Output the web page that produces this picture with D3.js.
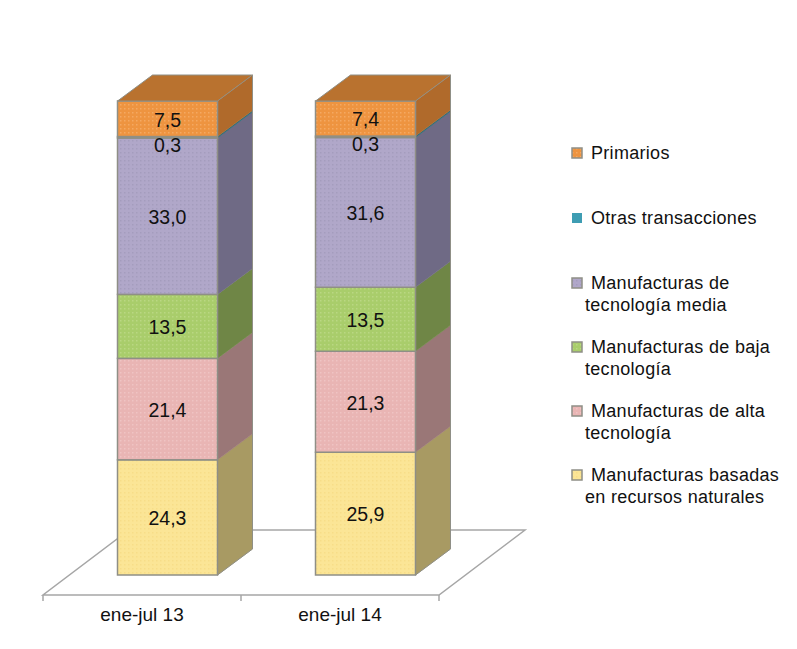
<!DOCTYPE html>
<html lang="es">
<head>
<meta charset="UTF-8">
<title>Exportaciones por contenido tecnologico</title>
<script src="https://cdn.jsdelivr.net/npm/d3@7"></script>
<style type="text/css">
	body { margin: 0; background: #fff; font-family: "Liberation Sans", Arial, sans-serif; }
	svg { display: block; }
	text { fill: #111; }
	.value { font-size: 19.5px; text-anchor: middle; }
	.legend text { font-size: 18px; letter-spacing: .3px; }
	.axis text { font-size: 19px; fill: #111; }
	.axis path, .axis line { stroke: #a6a6a6; stroke-width: 1.5px; fill: none; }
	.floor { stroke: #a6a6a6; stroke-width: 1.5px; fill: #fff; }
</style>
</head>
<body>
<script type="text/javascript">

// bottom to top, same order as the stack
var series = ['basadas', 'alta', 'baja', 'media', 'otras', 'primarios'];
var periods = ['ene-jul 13', 'ene-jul 14'];
var values13 = [24.3, 21.4, 13.5, 33.0, 0.3, 7.5];
var values14 = [25.9, 21.3, 13.5, 31.6, 0.3, 7.4];
var labels = ['Manufacturas basadas|en recursos naturales', 'Manufacturas de alta|tecnología', 'Manufacturas de baja|tecnología', 'Manufacturas de|tecnología media', 'Otras transacciones', 'Primarios'];

var frontColors = ['#fbe596', '#e9b5b4', '#a9cd6b', '#b0a7c9', '#3e9db3', '#ee9440'];
var dotColors = ['#f5d77f', '#f3cfcd', '#c4de92', '#9d94b5', '#3e9db3', '#f8b878'];
var sideColors = ['#a89a63', '#9a7777', '#6f8646', '#6f6a85', '#2a6b79', '#b06a2b'];
var topColor = '#b9722f';
var edge = '#8f8f86';

var width = 797, height = 649;
var depth = {x: 35, y: -26};
var floorDepth = {x: 86, y: -65};
var floorY = 595, barOffset = 25.5, barWidth = 100;

var xScale = d3.scaleBand().domain(periods).range([43, 439]);
var yScale = d3.scaleLinear().domain([0, 100]).range([575, 101]);

var svg = d3.select('body').append('svg').attr('width', width).attr('height', height);

// dotted fill of the office chart
var defs = svg.append('defs');
series.forEach(function(s, i) {
	var p = defs.append('pattern').attr('id', 'fill-' + s)
		.attr('width', 4).attr('height', 4).attr('patternUnits', 'userSpaceOnUse');
	p.append('rect').attr('width', 4).attr('height', 4).attr('fill', frontColors[i]);
	p.append('rect').attr('width', 1.5).attr('height', 1.5).attr('fill', dotColors[i]).attr('opacity', 0.6);
});

var pts = function(a) { return a.map(function(d) { return d.join(','); }).join(' '); };

// floor
var fl = xScale.range();
svg.append('polygon').attr('class', 'floor').attr('points', pts([
	[fl[0], floorY], [fl[1], floorY],
	[fl[1] + floorDepth.x, floorY + floorDepth.y], [fl[0] + floorDepth.x, floorY + floorDepth.y]
]));

var xAxis = d3.axisBottom(xScale).tickSize(0).tickPadding(13);
var axisG = svg.append('g').attr('class', 'axis').attr('transform', 'translate(0,' + floorY + ')').call(xAxis);
axisG.select('.domain').remove();
axisG.selectAll('.bound').data(periods.concat('end')).enter().append('line')
	.attr('class', 'bound')
	.attr('x1', function(d, i) { return fl[0] + i * xScale.step(); })
	.attr('x2', function(d, i) { return fl[0] + i * xScale.step(); })
	.attr('y1', 0).attr('y2', 6);

function drawBar(period, vals) {
	var x0 = xScale(period) + xScale.bandwidth() / 2 - barWidth / 2 + barOffset;
	var x1 = x0 + barWidth;
	var g = svg.append('g').attr('class', 'bar');
	var acc = 0;
	var stack = vals.map(function(v, i) {
		var d = {i: i, v: v, y0: yScale(acc), y1: yScale(acc + v)};
		acc += v;
		return d;
	});

	stack.forEach(function(d) {
		var col = series[d.i];
		g.append('polygon').attr('points', pts([
			[x1, d.y0], [x1 + depth.x, d.y0 + depth.y],
			[x1 + depth.x, d.y1 + depth.y], [x1, d.y1]
		])).attr('fill', sideColors[d.i]).attr('stroke', sideColors[d.i]).attr('stroke-width', 0.5);
		g.append('rect').attr('x', x0).attr('y', d.y1)
			.attr('width', barWidth).attr('height', d.y0 - d.y1)
			.attr('fill', 'url(#fill-' + col + ')')
			.attr('stroke', edge).attr('stroke-width', 1.5);
	});

	var top = stack[stack.length - 1].y1;
	g.append('polygon').attr('points', pts([
		[x0, top], [x0 + depth.x, top + depth.y],
		[x1 + depth.x, top + depth.y], [x1, top]
	])).attr('fill', topColor).attr('stroke', edge).attr('stroke-width', 1);
	g.append('polyline').attr('points', pts([
		[x1, yScale(0)], [x1 + depth.x, yScale(0) + depth.y], [x1 + depth.x, top + depth.y]
	])).attr('fill', 'none').attr('stroke', edge).attr('stroke-width', 1);

	stack.forEach(function(d) {
		// the thin slab label sits just below it, as in the source
		var cy = d.i === 4 ? d.y0 + 7 : (d.y0 + d.y1) / 2 + 1;
		g.append('text').attr('class', 'value')
			.attr('x', x0 + barWidth / 2).attr('y', cy).attr('dy', '.35em')
			.text(d3.format('.1f')(d.v).replace('.', ','));
	});
}

drawBar(periods[0], values13);
drawBar(periods[1], values14);

// legend, top to bottom
var legendY = [153, 218, 283, 347, 411, 475];
var legendOrder = [5, 4, 3, 2, 1, 0];
var legend = svg.append('g').attr('class', 'legend');
legendOrder.forEach(function(s, k) {
	var y = legendY[k];
	legend.append('rect').attr('x', 572).attr('y', y - 5).attr('width', 10).attr('height', 10)
		.attr('fill', 'url(#fill-' + series[s] + ')')
		.attr('stroke', s === 4 ? 'none' : edge).attr('stroke-width', 1.5);
	labels[s].split('|').forEach(function(t, j) {
		legend.append('text')
			.attr('x', j === 0 ? 591 : 585)
			.attr('y', y + 6 + j * 22)
			.text(t);
	});
});

</script>
</body>
</html>
